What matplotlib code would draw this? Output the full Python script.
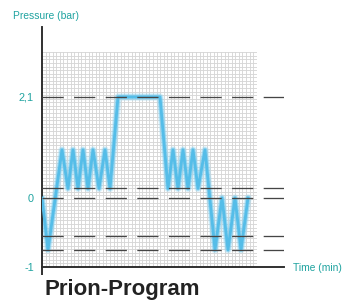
import numpy as np
import matplotlib
matplotlib.use("Agg")
import matplotlib.pyplot as plt
from matplotlib import font_manager
from matplotlib.ticker import MultipleLocator, FixedLocator, NullFormatter

# Pressure profile: time (arbitrary minutes) and pressure (bar)
time_pts = [0, 6, 20, 26, 31, 36, 41, 46, 51, 57, 63, 68, 76, 118,
            126, 131, 136, 141, 146, 151, 156, 163, 173, 180, 186, 193, 199, 206]
pressure_pts = [0, -0.75, 1.0, 0.2, 1.0, 0.2, 1.0, 0.2, 1.0, 0.2, 1.0, 0.2, 2.1, 2.1,
                0.2, 1.0, 0.2, 1.0, 0.2, 1.0, 0.2, 1.0, -0.75, 0, -0.75, 0, -0.75, 0]

# dashed reference levels (bar)
ref_levels = [2.1, 0.2, 0, -0.55, -0.75]
ytick_vals = [-1, 0, 2.1]
ytick_labels = ["-1", "0", "2,1"]

W, H, DPI = 345, 302, 100
PX = 72 / DPI  # points per pixel

teal = "#1fa3a0"
dark = "#2b2b2b"
blue = "#55bde8"

names = {f.name for f in font_manager.fontManager.ttflist}
if "Liberation Sans Narrow" in names:
    font = "Liberation Sans Narrow"
    small, tick, big = 9.0, 9.5, 19.0
else:
    font = "Liberation Sans"
    small, tick, big = 7.4, 7.8, 16.0
plt.rcParams["font.family"] = [font, "DejaVu Sans"]
plt.rcParams["lines.scale_dashes"] = False


# schematic axis: below zero is stretched compared with above zero
def fwd(y):
    y = np.asarray(y, dtype=float)
    return np.where(y < 0, y * 69.0, y * 48.1)


def inv(u):
    u = np.asarray(u, dtype=float)
    return np.where(u < 0, u / 69.0, u / 48.1)


fig = plt.figure(figsize=(W / DPI, H / DPI), dpi=DPI)

# graph-paper background
gx = fig.add_axes([42 / W, 35 / H, 215 / W, 215 / H], zorder=0)
gx.set_xlim(0, 215)
gx.set_ylim(0, 215)
gx.xaxis.set_major_locator(MultipleLocator(3.58))
gx.yaxis.set_major_locator(MultipleLocator(3.58))
gx.grid(True, color="#d6d6d6", linewidth=0.9 * PX)
gx.tick_params(length=0, labelbottom=False, labelleft=False)
for s in gx.spines.values():
    s.set_visible(False)

# main axes
ax = fig.add_axes([42 / W, 35 / H, 242 / W, 240 / H], zorder=1)
ax.patch.set_alpha(0)
ax.set_yscale("function", functions=(fwd, inv))
ax.set_xlim(0, 242)
ax.set_ylim(-1, 171 / 48.1)

# glowing pressure curve
ax.plot(time_pts, pressure_pts, color="#9ad8f3", lw=7.5 * PX, alpha=0.35,
        solid_joinstyle="round", solid_capstyle="round", zorder=2)
ax.plot(time_pts, pressure_pts, color="#74c9ee", lw=5 * PX, alpha=0.6,
        solid_joinstyle="round", solid_capstyle="round", zorder=2)
ax.plot(time_pts, pressure_pts, color=blue, lw=2.8 * PX,
        solid_joinstyle="round", zorder=3)

# dashed reference lines
for lv in ref_levels:
    ax.axhline(lv, color="#454545", lw=1.3 * PX,
               linestyle=(0, (21.2 * PX, 10.4 * PX)), zorder=4)

for side in ["top", "right"]:
    ax.spines[side].set_visible(False)
for side in ["left", "bottom"]:
    ax.spines[side].set_color(dark)
    ax.spines[side].set_linewidth(1.9 * PX)

ax.yaxis.set_major_locator(FixedLocator(ytick_vals))
ax.set_yticklabels(ytick_labels)
ax.yaxis.set_minor_locator(FixedLocator([-1]))
ax.yaxis.set_minor_formatter(NullFormatter())
ax.tick_params(axis="y", which="major", length=0, pad=8 * PX,
               labelcolor=teal, labelsize=tick)
ax.tick_params(axis="y", which="minor", length=7 * PX, width=1.9 * PX, color=dark)
ax.set_xticks([0])
ax.set_xticklabels([""])
ax.tick_params(axis="x", length=8 * PX, width=1.9 * PX, color=dark)

fig.text(13 / W, 1 - 16 / H, "Pressure (bar)", color=teal, fontsize=small,
         ha="left", va="center")
fig.text(293 / W, 1 - 268 / H, "Time (min)", color=teal, fontsize=small,
         ha="left", va="center")
fig.text(45 / W, 1 - 295 / H, "Prion-Program", color="#222222", fontsize=big,
         fontweight="bold", ha="left", va="baseline")

fig.savefig("out.png", dpi=DPI)
